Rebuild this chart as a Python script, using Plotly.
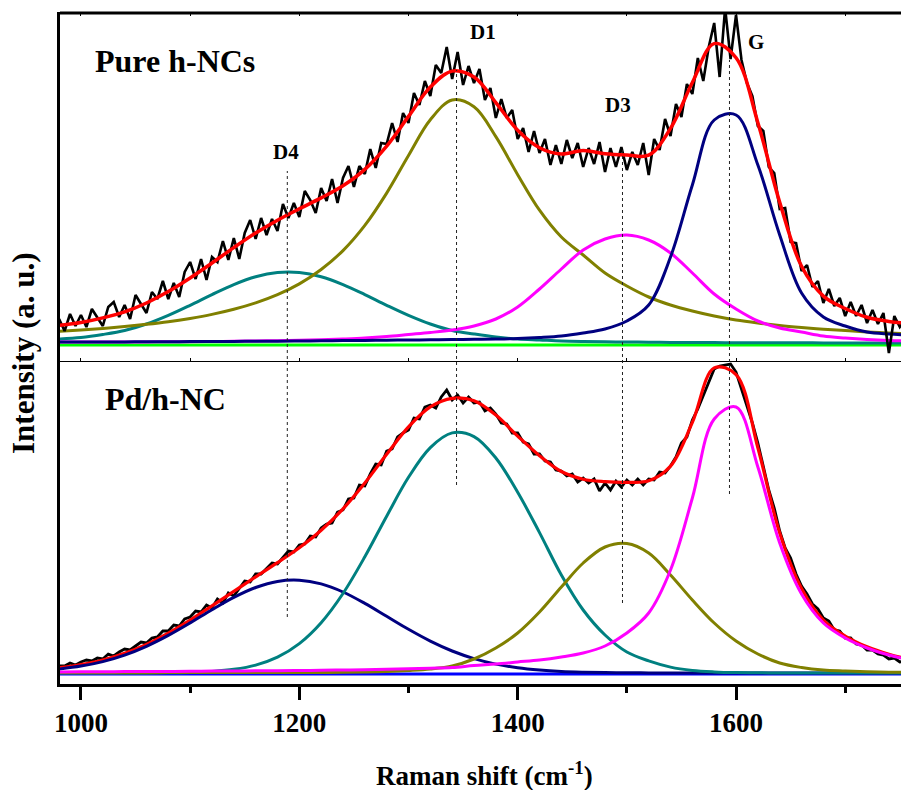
import plotly.graph_objects as go

# ---------------- data ----------------
# fitted-curve grid (cm^-1)
grid = list(range(980, 1761, 20))
# raw spectrum grid (cm^-1)
raw_x = list(range(980, 1756, 5))

# ---- Pure h-NCs (top panel) ----
top_D4 = [4, 5.5, 8.5, 12.5, 19, 27.6, 37.7, 48.4, 58.4, 66.2, 70.4, 70.4, 66.2, 58.4, 48.4, 37.7, 27.6, 19, 12.5, 9,
          6, 4, 3, 2, 1.5, 1.2, 1, 0.8, 0.6, 0.5, 0.4, 0.3, 0.3, 0.2, 0.2, 0.1, 0.1, 0.1, 0, 0]
top_D1 = [11.7, 13.0, 14.6, 16.5, 18.7, 21.3, 24.6, 28.6, 33.7, 40.1, 48.3, 59.1, 73.5, 92.4, 117.6, 149.9, 187.5, 223.2, 243.0, 236.2,
          206.4, 168.3, 132.8, 106, 88, 70, 57, 46, 38, 32, 27, 23, 20, 17.5, 15.5, 13.8, 12.4, 11.1, 10.1, 9.2]
top_D3 = [1, 1, 1, 1, 1.1, 1.2, 1.3, 1.5, 1.7, 2, 2.3, 2.7, 3.2, 4, 5, 6.5, 8.5, 10.5, 13, 17,
          24, 36, 54, 74, 93, 104, 108, 103, 90, 70, 49, 34, 22, 15, 11, 7, 5, 3.5, 2.5, 2]
top_G = [1, 1, 1, 1.1, 1.2, 1.3, 1.4, 1.5, 1.6, 1.7, 1.8, 2, 2.2, 2.4, 2.6, 2.8, 3, 3.2, 3.4, 3.7,
         4, 4.5, 5.5, 7, 10, 14, 22, 38, 86, 158, 223, 228, 178, 108, 50, 26, 17, 11, 9, 8]
top_fit = [17.7, 20.5, 25.1, 31.1, 40, 51.4, 65, 80, 95.4, 110, 122.8, 134.2, 145.1, 157.2, 173.6, 196.9, 226.6, 255.9, 271.9, 265.9,
           240.4, 212.8, 195.3, 189, 192.5, 189.2, 188, 187.8, 214.6, 260.5, 299.4, 285.3, 220.3, 140.7, 76.7, 46.9, 34.5, 25.7, 21.6, 19.2]
top_base_x = [980, 1760]
top_base_y = [-2, -2]
top_raw = [24, 12, 29, 17, 28, 16, 34, 26, 17, 36,
           41, 26, 38, 24, 48, 39, 30, 51, 44, 62,
           44, 60, 46, 71, 81, 64, 84, 63, 86, 81,
           102, 83, 105, 84, 110, 123, 104, 125, 108, 124,
           112, 139, 125, 140, 126, 152, 143, 130, 155, 142,
           164, 140, 165, 177, 156, 177, 169, 194, 175, 200,
           199, 220, 201, 230, 220, 250, 238, 262, 247, 278,
           270, 296, 264, 291, 258, 277, 260, 274, 243, 255,
           225, 244, 225, 233, 204, 215, 191, 212, 190, 204,
           178, 198, 179, 203, 185, 200, 176, 195, 179, 201,
           171, 195, 176, 196, 173, 191, 178, 200, 168, 204,
           193, 224, 207, 239, 226, 259, 249, 285, 262, 296,
           320, 266, 335, 284, 328, 283, 260, 247, 217, 212,
           176, 170, 134, 135, 101, 100, 72, 78, 56, 62,
           40, 54, 37, 45, 27, 41, 27, 38, 20, 33,
           19, 30, -10, 27, 16, 24]

# ---- Pd/h-NC (bottom panel) ----
bot_D4 = [3.9, 6.9, 11.4, 17.9, 26.7, 37.6, 50.1, 63.3, 75.6, 85.5, 91.6, 92.8, 89.1, 81, 69.6, 56.7, 43.7, 31.9, 22, 14.4,
          8.9, 5.2, 2.9, 1.5, 0.8, 0.4, 0.2, 0.1, 0, 0, 0, 0, 0, 0, 0, 0, 0, 0, 0, 0]
bot_D1 = [0, 0, 0, 0.1, 0.1, 0.2, 0.6, 1.6, 3.7, 7.9, 15.9, 29.4, 50.3, 79.5, 116.2, 156.8, 195.7, 225.4, 240.1, 236.4,
          215, 180.7, 140.4, 98, 63, 38, 21, 12.1, 5.9, 2.6, 1.1, 0.4, 0.2, 0, 0, 0, 0, 0, 0, 0]
bot_D3 = [0.3, 0.3, 0.3, 0.3, 0.3, 0.4, 0.4, 0.4, 0.4, 0.5, 0.5, 0.5, 0.6, 0.7, 1, 1.5, 2.5, 4, 7, 14,
          25, 40, 61, 86, 110, 126, 129.5, 120, 98, 73, 50, 32, 19, 10, 5.5, 3, 2, 1.2, 0.8, 0.5]
bot_G = [1, 1.2, 1.3, 1.4, 1.5, 1.6, 1.7, 1.9, 2, 2.2, 2.3, 2.5, 2.7, 3, 3.3, 3.7, 4.2, 4.8, 5.5, 7.5,
         9, 11, 13, 16, 20, 27, 40, 60, 103, 175, 254, 266, 206, 130, 79, 50, 35, 25, 18, 13]
bot_fit = [5.2, 8.4, 13.0, 19.7, 28.6, 39.8, 52.8, 67.2, 81.7, 96.1, 110.3, 125.2, 142.7, 164.2, 190.1, 218.7, 246.1, 266.1, 274.6, 272.3,
           257.9, 236.9, 217.3, 201.5, 193.8, 191.4, 190.7, 192.2, 206.9, 250.6, 305.1, 298.4, 225.2, 140, 84.5, 53, 37, 26.2, 18.8, 13.5]
bot_base_x = [980, 1760]
bot_base_y = [-1, -1]
bot_raw = [7, 7, 10, 8, 11, 13, 12, 15, 14, 19,
           17, 21, 24, 23, 27, 31, 30, 35, 36, 42,
           42, 48, 47, 54, 56, 62, 61, 68, 65, 74,
           70, 80, 77, 84, 92, 91, 99, 99, 105, 110,
           109, 116, 122, 121, 128, 129, 137, 136, 145, 149,
           150, 161, 163, 174, 175, 188, 187, 199, 209, 208,
           222, 224, 236, 240, 243, 255, 254, 266, 268, 265,
           276, 283, 273, 278, 270, 276, 270, 271, 262, 265,
           259, 250, 249, 240, 240, 231, 229, 219, 219, 212,
           211, 203, 202, 197, 199, 191, 195, 190, 194, 182,
           190, 183, 192, 186, 193, 188, 194, 188, 194, 193,
           201, 200, 207, 216, 230, 236, 253, 264, 277, 291,
           304, 307, 308, 309, 301, 284, 266, 250, 230, 208,
           183, 165, 142, 125, 115, 99, 87, 79, 69, 64,
           55, 52, 43, 42, 35, 35, 29, 28, 23, 23,
           19, 18, 14, 15, 11, 12]

# peak markers
peak_names = ["D4", "D1", "D3", "G"]
peak_pos = [1189, 1344, 1496, 1594]

# ---------------- styling ----------------
FONT = "Liberation Serif"
C_BLACK = "#000000"
C_RED = "#FF0000"
C_OLIVE = "#808000"
C_TEAL = "#008080"
C_MAG = "#FF00FF"
C_NAVY = "#000080"
C_GREEN = "#00FF00"
C_BLUE = "#0000FF"

W, H = 901, 790
ML, MR, MT, MB = 60, 0, 13, 106
PW = W - ML - MR
PH = H - MT - MB
DIV_PX = 361  # divider between panels


def py(p):  # pixel y -> paper
    return (H - MB - p) / PH


def px(p):  # pixel x -> paper
    return (p - ML) / PW


split = py(DIV_PX)

fig = go.Figure()


def curve(x, y, color, width, axes, shape="spline"):
    xa, ya = axes
    fig.add_trace(go.Scatter(x=x, y=y, mode="lines", xaxis=xa, yaxis=ya,
                             line=dict(color=color, width=width, shape=shape),
                             hoverinfo="skip", showlegend=False))


TOP = ("x2", "y")
BOT = ("x", "y2")

# top panel
curve(top_base_x, top_base_y, C_GREEN, 3, TOP, "linear")
curve(grid, top_D4, C_TEAL, 3, TOP)
curve(grid, top_D1, C_OLIVE, 3, TOP)
curve(grid, top_D3, C_MAG, 3, TOP)
curve(grid, top_G, C_NAVY, 3, TOP)
curve(raw_x, top_raw, C_BLACK, 2.6, TOP, "linear")
curve(grid, top_fit, C_RED, 3.5, TOP)

# bottom panel
curve(raw_x, bot_raw, C_BLACK, 2.8, BOT, "linear")
curve(grid, bot_fit, C_RED, 3.2, BOT)
curve(bot_base_x, bot_base_y, C_BLUE, 3, BOT, "linear")
curve(grid, bot_D4, C_NAVY, 3, BOT)
curve(grid, bot_D1, C_TEAL, 3, BOT)
curve(grid, bot_D3, C_OLIVE, 3, BOT)
curve(grid, bot_G, C_MAG, 3, BOT)

XR = [980.8, 1751.1]

fig.update_layout(
    width=W, height=H,
    margin=dict(l=ML, r=MR, t=MT, b=MB),
    paper_bgcolor="white", plot_bgcolor="white",
    showlegend=False,
    xaxis=dict(domain=[0, 1], anchor="y2", range=XR, showgrid=False, zeroline=False,
               showline=True, linewidth=3, linecolor="black",
               tick0=1000, dtick=200, ticks="outside", ticklen=13, tickwidth=3, tickcolor="black",
               minor=dict(tick0=1000, dtick=100, ticks="outside", ticklen=6, tickwidth=3, tickcolor="black"),
               tickfont=dict(family=FONT, size=27, color="black", weight="bold")),
    xaxis2=dict(domain=[0, 1], anchor="y", matches="x", range=XR, showgrid=False, zeroline=False,
                showticklabels=False, showline=True, linewidth=1, linecolor="black",
                mirror="ticks", tick0=1000, dtick=100, ticks="inside", ticklen=3, tickwidth=1,
                tickcolor="black"),
    yaxis=dict(domain=[split, 1], anchor="x2", range=[-18, 330], showgrid=False, zeroline=False,
               showline=True, linewidth=3, linecolor="black", showticklabels=False, ticks=""),
    yaxis2=dict(domain=[0, split], anchor="x", range=[-11, 312], showgrid=False, zeroline=False,
                showline=True, linewidth=3, linecolor="black", showticklabels=False, ticks=""),
)

shapes = []
# top frame line
shapes.append(dict(type="line", xref="paper", yref="paper", x0=0, x1=1, y0=1, y1=1,
                   line=dict(color="black", width=3)))
# dashed peak markers (top px, bottom px)
dash_span = [(171, 617), (70, 485), (150, 603), (60, 494)]
for pos, (t, b) in zip(peak_pos, dash_span):
    shapes.append(dict(type="line", xref="x", yref="paper", x0=pos, x1=pos, y0=py(b), y1=py(t),
                       line=dict(color="#222222", width=1, dash="3px,3px")))
fig.update_layout(shapes=shapes)

ann = []
label_x = [1188, 1368, 1492, 1618]
label_y = [152, 32, 105, 42]
for name, lx, ly in zip(peak_names, label_x, label_y):
    ann.append(dict(text=name, xref="x", yref="paper", x=lx, y=py(ly), showarrow=False,
                    xanchor="center", yanchor="middle",
                    font=dict(family=FONT, size=21, color="black", weight="bold")))
ann.append(dict(text="Pure h-NCs", xref="paper", yref="paper", x=px(93), y=py(61), showarrow=False,
                xanchor="left", yanchor="middle",
                font=dict(family=FONT, size=32, color="black", weight="bold")))
ann.append(dict(text="Pd/h-NC", xref="paper", yref="paper", x=px(103), y=py(399), showarrow=False,
                xanchor="left", yanchor="middle",
                font=dict(family=FONT, size=32, color="black", weight="bold")))
ann.append(dict(text="Raman shift (cm<sup>-1</sup>)", xref="paper", yref="paper", x=px(484), y=py(774),
                showarrow=False, xanchor="center", yanchor="middle",
                font=dict(family=FONT, size=27, color="black", weight="bold")))
ann.append(dict(text="Intensity (a. u.)", xref="paper", yref="paper", x=px(23), y=py(353),
                showarrow=False, xanchor="center", yanchor="middle", textangle=-90,
                font=dict(family=FONT, size=31, color="black", weight="bold")))
fig.update_layout(annotations=ann)

fig.write_html("out.html")
